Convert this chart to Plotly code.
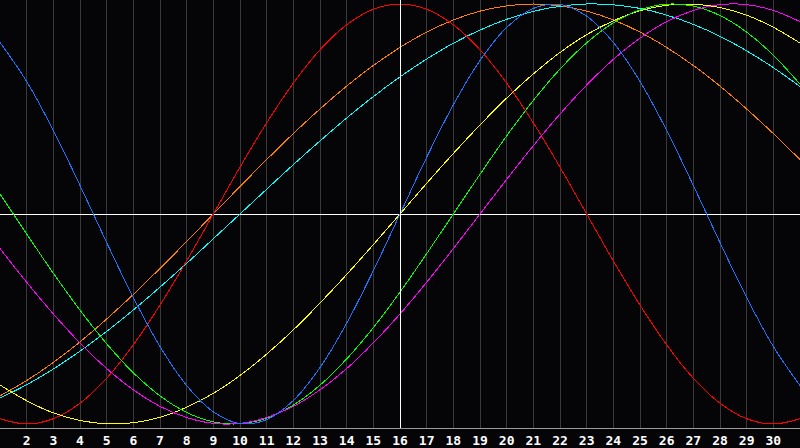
import plotly.graph_objects as go

# days shown on the chart
days = list(range(1, 32))
tick_days = list(range(2, 31))
today = 16

# cycle values, one per day (-1 .. 1)
physical = [0.817, 0.631, 0.398, 0.136, -0.136, -0.398, -0.631, -0.817, -0.942, -0.998,
            -0.979, -0.888, -0.731, -0.520, -0.270, 0.0, 0.270, 0.520, 0.731, 0.888,
            0.979, 0.998, 0.942, 0.817, 0.631, 0.398, 0.136, -0.136, -0.398, -0.631, -0.817]
emotional = [-0.975, -1.0, -0.975, -0.901, -0.782, -0.623, -0.434, -0.223, 0.0, 0.223,
             0.434, 0.623, 0.782, 0.901, 0.975, 1.0, 0.975, 0.901, 0.782, 0.623,
             0.434, 0.223, 0.0, -0.223, -0.434, -0.623, -0.782, -0.901, -0.975, -1.0, -0.975]
intellectual = [0.095, -0.095, -0.282, -0.458, -0.618, -0.756, -0.866, -0.945, -0.990, -0.999,
                -0.972, -0.910, -0.815, -0.690, -0.541, -0.372, -0.189, 0.0, 0.189, 0.372,
                0.541, 0.690, 0.815, 0.910, 0.972, 0.999, 0.990, 0.945, 0.866, 0.756, 0.618]
intuitive = [-0.165, -0.325, -0.476, -0.614, -0.736, -0.837, -0.916, -0.969, -0.997, -0.997,
             -0.969, -0.916, -0.837, -0.736, -0.614, -0.476, -0.325, -0.165, 0.0, 0.165,
             0.325, 0.476, 0.614, 0.736, 0.837, 0.916, 0.969, 0.997, 0.997, 0.969, 0.916]
aesthetic = [-0.814, -0.889, -0.947, -0.983, -0.999, -0.994, -0.968, -0.920, -0.854, -0.769,
             -0.667, -0.552, -0.424, -0.288, -0.146, 0.0, 0.146, 0.288, 0.424, 0.552,
             0.667, 0.769, 0.854, 0.920, 0.968, 0.994, 0.999, 0.983, 0.947, 0.889, 0.814]
awareness = [-0.866, -0.793, -0.707, -0.609, -0.5, -0.383, -0.259, -0.131, 0.0, 0.131,
             0.259, 0.383, 0.5, 0.609, 0.707, 0.793, 0.866, 0.924, 0.966, 0.991,
             1.0, 0.991, 0.966, 0.924, 0.866, 0.793, 0.707, 0.609, 0.5, 0.383, 0.259]
spiritual = [-0.876, -0.813, -0.738, -0.653, -0.559, -0.457, -0.348, -0.235, -0.118, 0.0,
             0.118, 0.235, 0.348, 0.457, 0.559, 0.653, 0.738, 0.813, 0.876, 0.927,
             0.965, 0.989, 1.0, 0.996, 0.979, 0.947, 0.903, 0.846, 0.777, 0.697, 0.607]

series = [
    ("awareness", awareness, "#ff8000"),
    ("spiritual", spiritual, "#00ffff"),
    ("emotional", emotional, "#ff0000"),
    ("aesthetic", aesthetic, "#ffff00"),
    ("intellectual", intellectual, "#00ff00"),
    ("intuitive", intuitive, "#ff00ff"),
    ("physical", physical, "#1a75ff"),
]

fig = go.Figure()
for name, vals, col in series:
    fig.add_trace(go.Scatter(x=days, y=vals, name=name, mode="lines",
                             line=dict(color=col, width=1, shape="spline"),
                             hoverinfo="skip"))

# today marker
fig.add_shape(type="line", x0=today, x1=today, y0=0, y1=1, yref="paper",
              line=dict(color="white", width=1), layer="above")

fig.update_layout(
    width=800, height=448,
    margin=dict(l=0, r=0, t=0, b=20),
    paper_bgcolor="#050507", plot_bgcolor="#050507",
    showlegend=False,
    hovermode=False,
)
fig.update_xaxes(range=[1, 31], tickvals=tick_days, ticktext=[str(d) for d in tick_days],
                 showgrid=True, gridcolor="#3a3a3a", gridwidth=1,
                 showline=True, linecolor="#9a9a9a", linewidth=1, mirror=True,
                 zeroline=False, ticks="",
                 tickfont=dict(family="DejaVu Sans Mono", size=13, color="white", weight="bold"))
fig.update_yaxes(range=[-1.019, 1.019], showticklabels=False, showgrid=False,
                 showline=True, linecolor="#9a9a9a", linewidth=1, mirror=True,
                 zeroline=True, zerolinecolor="white", zerolinewidth=1)

# drop the page margin and draw the strokes pixel-sharp like the original
fig.write_html("out.html", config={"displayModeBar": False, "staticPlot": True},
               post_script="document.body.style.margin='0';"
               "document.body.style.background='#050507';"
               "document.querySelectorAll('path').forEach(function(p){"
               "p.style.shapeRendering='crispEdges';});")
